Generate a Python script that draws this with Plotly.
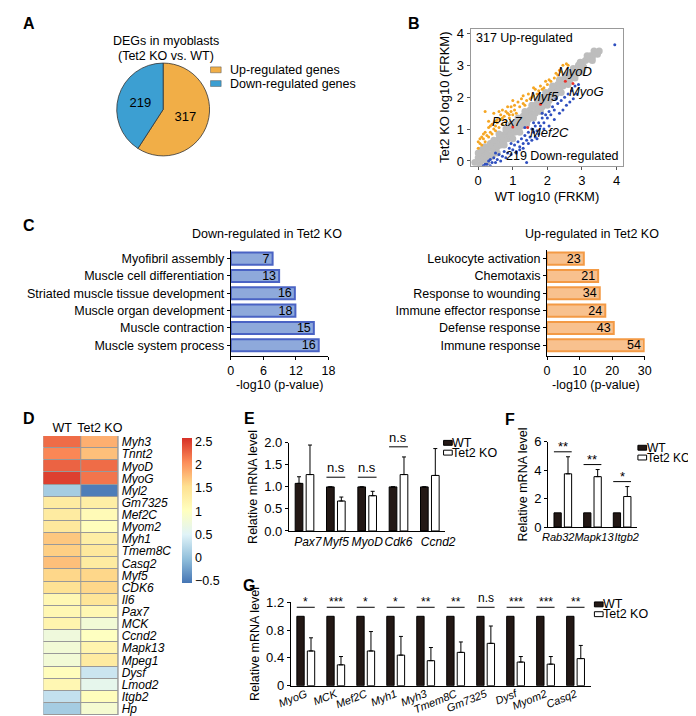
import plotly.graph_objects as go

W, H = 696, 716
FONT = "Arial, Liberation Sans, sans-serif"

# ---- A: pie ----
pie_labels = ["Up-regulated genes", "Down-regulated genes"]
pie_values = [317, 219]
pie_colors = ["#F1AE47", "#3C9FD2"]

# ---- B: scatter (WT vs KO log10 FRKM) ----
gray_x = [-0.1, 0, 0.05, 0.1, 0.15, 0.2, 0.25, 0.3, 0.3, 0.35, 0.4, 0.45, 0.5, 0.5, 0.55, 0.6, 0.65, 0.7, 0.7, 0.75,
          0.8, 0.85, 0.9, 0.9, 0.95, 1.0, 1.05, 1.1, 1.1, 1.15, 1.2, 1.25, 1.3, 1.3, 1.35, 1.4, 1.45, 1.5, 1.5, 1.55,
          1.6, 1.65, 1.7, 1.7, 1.75, 1.8, 1.85, 1.9, 1.9, 1.95, 2.0, 2.05, 2.1, 2.1, 2.15, 2.2, 2.25, 2.3, 2.3, 2.35,
          2.4, 2.45, 2.5, 2.55, 2.6, 2.65, 2.7, 2.75, 2.8, 2.85, 2.9, 2.95, 3.0, 3.05, 3.1, 3.2, 3.25, 3.3, 3.4, 3.5,
          0.0, 0.1, 0.2, 0.35, 0.45, 0.6, 0.8, 0.95, 1.15, 1.35, 1.55, 1.75, 1.95, 2.15, 2.35, 2.55, 2.75, 2.95,
          3.15, 3.35, 0.05, 0.25, 0.4, 0.55, 0.75, 1.0, 1.2, 1.4, 1.6, 1.8, 2.0, 2.2, 2.4, 2.6, 2.8, 3.0, 3.3, 3.45]
gray_y = [-0.05, 0.1, -0.1, 0.2, 0.05, 0.3, 0.1, 0.4, 0.2, 0.15, 0.5, 0.3, 0.6, 0.4, 0.45, 0.7, 0.5, 0.8, 0.6, 0.65,
          0.9, 0.7, 1.0, 0.8, 0.85, 1.1, 0.9, 1.2, 1.0, 1.05, 1.3, 1.1, 1.4, 1.2, 1.25, 1.5, 1.3, 1.6, 1.4, 1.45,
          1.7, 1.5, 1.8, 1.6, 1.65, 1.9, 1.7, 2.0, 1.8, 1.85, 2.1, 1.9, 2.2, 2.0, 2.05, 2.3, 2.1, 2.4, 2.2, 2.25,
          2.5, 2.35, 2.6, 2.45, 2.65, 2.55, 2.8, 2.65, 2.85, 2.75, 3.0, 2.9, 3.05, 2.95, 3.15, 3.2, 3.3, 3.25, 3.4, 3.45,
          0.25, 0.35, 0.45, 0.55, 0.65, 0.85, 1.0, 1.15, 1.35, 1.55, 1.75, 1.95, 2.15, 2.35, 2.55, 2.7, 2.9, 3.1,
          3.3, 3.45, -0.15, -0.05, 0.15, 0.25, 0.5, 0.7, 0.9, 1.15, 1.35, 1.55, 1.75, 2.0, 2.15, 2.4, 2.6, 2.8, 3.15, 3.35]
up_x = [0.0, 0.05, 0.1, 0.15, 0.2, 0.25, 0.3, 0.35, 0.4, 0.45, 0.5, 0.5, 0.55, 0.6, 0.65, 0.7, 0.75, 0.8, 0.85, 0.9,
        0.95, 1.0, 1.05, 1.1, 1.2, 1.3, 1.35, 1.4, 1.5, 1.55, 1.6, 1.7, 1.75, 1.85, 1.9, 2.0, 2.1, 2.2, 2.3, 2.4,
        2.45, 2.55, 2.6, 0.2, 0.45, 0.6, 0.7,
        0.0, 0.1, 0.2, 0.3, 0.4, 0.55, 0.65, 0.8, 0.95, 1.15, 1.25, 1.45, 1.65, 1.8, 1.95, 2.05, 2.25, 2.35,
        0.05, 0.15, 0.35, 0.5, 0.7, 0.9, 1.05, 1.3, 1.6, 0.3, 0.85, 1.0]
up_y = [0.4, 0.55, 0.5, 0.7, 0.6, 0.8, 0.75, 0.9, 0.85, 1.0, 1.1, 0.95, 1.2, 1.05, 1.3, 1.15, 1.4, 1.25, 1.5, 1.35,
        1.55, 1.45, 1.6, 1.5, 1.7, 1.8, 1.75, 1.9, 1.95, 2.0, 2.05, 2.1, 2.2, 2.25, 2.3, 2.4, 2.5, 2.6, 2.7, 2.8,
        3.0, 3.05, 3.0, 1.55, 1.5, 1.55, 1.6,
        0.6, 0.75, 0.9, 1.05, 1.15, 1.3, 1.45, 1.55, 1.7, 1.85, 1.95, 2.1, 2.25, 2.35, 2.5, 2.55, 2.75, 2.85,
        0.7, 0.85, 1.1, 1.25, 1.35, 1.45, 1.75, 2.05, 2.3, 1.25, 1.7, 1.9]
down_x = [0.2, 0.3, 0.4, 0.45, 0.55, 0.6, 0.7, 0.75, 0.85, 0.9, 1.0, 1.05, 1.1, 1.15, 1.2, 1.25, 1.3, 1.35, 1.4, 1.45,
          1.5, 1.55, 1.6, 1.65, 1.7, 1.75, 1.8, 1.85, 1.9, 1.95, 2.0, 2.05, 2.1, 2.15, 2.2, 2.3, 2.4, 2.5, 2.6, 2.7,
          2.8, 2.9, 1.4, 0.35, 3.95,
          0.15, 0.25, 0.35, 0.5, 0.65, 0.8, 0.95, 1.1, 1.2, 1.3, 1.45, 1.55, 1.65, 1.75, 1.9, 2.05, 2.2, 2.35,
          2.45, 2.55, 2.65, 2.75, 2.85, 0.5, 0.95, 1.35, 1.6, 1.85, 2.25, 1.7]
down_y = [-0.1, 0.0, -0.05, 0.1, 0.05, 0.2, 0.15, 0.3, 0.25, 0.4, 0.35, 0.5, 0.3, 0.6, 0.45, 0.7, 0.55, 0.8, 0.65, 0.9,
          0.75, 1.0, 0.9, 1.1, 0.95, 1.2, 1.1, 1.35, 1.2, 1.45, 1.35, 1.55, 1.45, 1.7, 1.6, 1.8, 1.9, 2.0, 2.1, 2.2,
          2.35, 2.4, -0.05, -0.15, 3.65,
          -0.15, -0.1, 0.05, -0.05, 0.0, 0.1, 0.2, 0.25, 0.35, 0.4, 0.55, 0.65, 0.75, 0.85, 1.0, 1.1, 1.3, 1.5,
          1.6, 1.75, 1.85, 1.95, 2.1, 0.25, 0.55, 1.05, 1.2, 1.5, 1.95, 0.7]
mark_genes = ["Pax7", "Mef2C", "Myf5", "MyoD", "MyoG"]
mark_x = [1.0, 1.43, 1.8, 2.52, 2.74]
mark_y = [1.07, 1.05, 1.78, 2.5, 2.43]
mark_lx = [0.84, 2.07, 1.93, 2.8, 3.13]
mark_ly = [1.23, 0.89, 2.03, 2.8, 2.18]

# ---- C: GO terms ----
down_terms = ["Myofibril assembly", "Muscle cell differentiation", "Striated muscle tissue development",
              "Muscle organ development", "Muscle contraction", "Muscle system process"]
down_logp = [7.7, 8.9, 11.8, 11.9, 15.3, 16.2]
down_counts = [7, 13, 16, 18, 15, 16]
up_terms = ["Leukocyte activation", "Chemotaxis", "Response to wounding", "Immune effector response",
            "Defense response", "Immune response"]
up_logp = [11.3, 15.7, 16.2, 17.9, 20.5, 29.8]
up_counts = [23, 21, 34, 24, 43, 54]

# ---- D: heatmap ----
hm_genes = ["Myh3", "Tnnt2", "MyoD", "MyoG", "Myl2", "Gm7325", "Mef2C", "Myom2", "Myh1", "Tmem8C", "Casq2",
            "Myf5", "CDK6", "Il6", "Pax7", "MCK", "Ccnd2", "Mapk13", "Mpeg1", "Dysf", "Lmod2", "Itgb2", "Hp"]
hm_wt = [2.25, 2.1, 2.3, 2.5, 0.1, 1.35, 1.35, 1.4, 1.7, 1.65, 1.75, 1.6, 1.5, 1.15, 1.15, 1.2, 0.75, 0.8, 0.8,
         1.05, 1.15, 0.3, 0.1]
hm_ko = [1.85, 1.75, 2.25, 2.2, -0.5, 1.3, 1.1, 1.05, 1.3, 1.4, 1.35, 1.6, 1.6, 1.45, 1.15, 0.8, 1.0, 1.2, 1.35,
         0.35, 0.6, 1.05, 0.85]

# ---- E ----
e_genes = ["Pax7", "Myf5", "MyoD", "Cdk6", "Ccnd2"]
e_wt = [1.08, 1.0, 1.0, 1.0, 1.0]
e_wt_err = [0.15, 0, 0, 0, 0]
e_ko = [1.28, 0.68, 0.80, 1.28, 1.26]
e_ko_err = [0.67, 0.09, 0.10, 0.40, 0.61]
e_sig = ["n.s", "n.s", "n.s", "n.s", "n.s"]
e_sig_y = [2.07, 1.22, 1.22, 1.91, 2.09]

# ---- F ----
f_genes = ["Rab32", "Mapk13", "Itgb2"]
f_wt = [1.0, 1.0, 1.0]
f_ko = [3.75, 3.55, 2.15]
f_ko_err = [1.2, 0.5, 0.7]
f_sig = ["**", "**", "*"]
f_sig_y = [5.3, 4.4, 3.2]

# ---- G ----
g_genes = ["MyoG", "MCK", "Mef2C", "Myh1", "Myh3", "Tmem8C", "Gm7325", "Dysf", "Myom2", "Casq2"]
g_wt = [1.0] * 10
g_ko = [0.50, 0.30, 0.50, 0.44, 0.36, 0.48, 0.61, 0.34, 0.31, 0.39]
g_ko_err = [0.19, 0.12, 0.28, 0.27, 0.19, 0.15, 0.25, 0.08, 0.11, 0.19]
g_sig = ["*", "***", "*", "*", "**", "**", "n.s", "***", "***", "**"]
g_sig_y = [1.13] * 10


def px(x):
    return x / W


def py(y):
    return 1 - y / H


NB = "\u00a0"

fig = go.Figure()

fig.add_trace(go.Pie(labels=pie_labels, values=pie_values, sort=False, direction="clockwise",
                     marker=dict(colors=pie_colors, line=dict(color="#333333", width=0.8)),
                     textinfo="value", textposition="inside", insidetextorientation="horizontal",
                     textfont=dict(size=13, color="black"),
                     domain=dict(x=[px(99), px(195)], y=[py(145), py(48)]), showlegend=False))

# B
fig.add_trace(go.Scatter(x=gray_x, y=gray_y, mode="markers", marker=dict(color="#BDBDBD", size=7),
                         xaxis="x", yaxis="y", showlegend=False))
fig.add_trace(go.Scatter(x=up_x, y=up_y, mode="markers", marker=dict(color="#F5A623", size=3),
                         xaxis="x", yaxis="y", showlegend=False))
fig.add_trace(go.Scatter(x=down_x, y=down_y, mode="markers", marker=dict(color="#2F4FBF", size=3),
                         xaxis="x", yaxis="y", showlegend=False))
fig.add_trace(go.Scatter(x=mark_x, y=mark_y, mode="markers", marker=dict(color="#E8312A", size=3),
                         xaxis="x", yaxis="y", showlegend=False))

# C
fig.add_trace(go.Bar(x=down_logp, y=down_terms, orientation="h", width=0.7, text=down_counts,
                     textposition="inside", insidetextanchor="end", textangle=0, constraintext="none",
                     textfont=dict(size=12.5, color="black"),
                     marker=dict(color="#8EA9DB", line=dict(color="#4A63C4", width=2)),
                     xaxis="x2", yaxis="y2", showlegend=False))
fig.add_trace(go.Bar(x=up_logp, y=up_terms, orientation="h", width=0.7, text=up_counts,
                     textposition="inside", insidetextanchor="end", textangle=0, constraintext="none",
                     textfont=dict(size=12.5, color="black"),
                     marker=dict(color="#F8C18E", line=dict(color="#F39A45", width=2)),
                     xaxis="x3", yaxis="y3", showlegend=False))

# D
rdylbu = [[0.0, "#4575B4"], [1 / 6, "#91BFDB"], [2 / 6, "#E0F3F8"], [3 / 6, "#FFFFBF"],
          [4 / 6, "#FEE090"], [5 / 6, "#FC8D59"], [1.0, "#D73027"]]
fig.add_trace(go.Heatmap(z=[[a, b] for a, b in zip(hm_wt, hm_ko)], x=["WT", "Tet2 KO"], y=hm_genes,
                         colorscale=rdylbu, zmin=-0.56, zmax=2.59, xgap=1, ygap=1,
                         xaxis="x4", yaxis="y4",
                         colorbar=dict(x=px(167), xanchor="left", y=py(432), yanchor="top",
                                       len=148 / H, lenmode="fraction", thickness=10, outlinewidth=0,
                                       xpad=0, ypad=0, tickvals=[2.5, 2, 1.5, 1, 0.5, 0, -0.5],
                                       tickfont=dict(size=12.5), ticks="")))


def bar_pair(xs, wt, ko, ko_err, xa, ya, wt_err=None):
    fig.add_trace(go.Bar(x=xs, y=wt, marker=dict(color="#231815", line=dict(color="black", width=1)),
                         error_y=dict(type="data", array=wt_err or [0] * len(xs), arrayminus=[0] * len(xs),
                                      symmetric=False, color="black", thickness=1, width=2,
                                      visible=wt_err is not None),
                         xaxis=xa, yaxis=ya, showlegend=False, cliponaxis=False))
    fig.add_trace(go.Bar(x=xs, y=ko, marker=dict(color="white", line=dict(color="black", width=1)),
                         error_y=dict(type="data", array=ko_err, arrayminus=[0] * len(xs), symmetric=False,
                                      color="black", thickness=1, width=2),
                         xaxis=xa, yaxis=ya, showlegend=False, cliponaxis=False))


bar_pair(e_genes, e_wt, e_ko, e_ko_err, "x5", "y5", e_wt_err)
bar_pair(f_genes, f_wt, f_ko, f_ko_err, "x6", "y6")
bar_pair(g_genes, g_wt, g_ko, g_ko_err, "x7", "y7")

shapes = []
annotations = []


def note(x, y, text, size=12.5, xanchor="center", **kw):
    # paper annotation with explicit anchors (auto anchors shift near the edges)
    annotations.append(dict(xref="paper", yref="paper", x=px(x), y=py(y), text=text, showarrow=False,
                            xanchor=xanchor, yanchor="middle", font=dict(size=size), **kw))


def sig_marks(sigs, levels, xa, ya, size):
    for i, (s, lv) in enumerate(zip(sigs, levels)):
        shapes.append(dict(type="line", xref=xa, yref=ya, x0=i - 0.3, x1=i + 0.3, y0=lv, y1=lv,
                           line=dict(color="black", width=1)))
        annotations.append(dict(xref=xa, yref=ya, x=i, y=lv, text=s, showarrow=False, xanchor="center",
                                yanchor="bottom", yshift=0 if s == "n.s" else -4, font=dict(size=size)))


sig_marks(e_sig, e_sig_y, "x5", "y5", 13)
sig_marks(f_sig, f_sig_y, "x6", "y6", 13)
sig_marks(g_sig, g_sig_y, "x7", "y7", 12)

# panel letters
for lab, x, y in [("A", 8, 9), ("B", 406, 9), ("C", 8, 215), ("D", 8, 412), ("E", 236, 412),
                  ("F", 506, 413), ("G", 236, 583)]:
    note(x, y, "<b>%s</b>" % lab, size=16)

# A title + legend
note(150, 27, "DEGs in myoblasts")
note(150, 42, "(Tet2 KO vs. WT)")
for i, (lab, c) in enumerate(zip(pie_labels, pie_colors)):
    yc = 56 + 14 * i
    shapes.append(dict(type="rect", xref="paper", yref="paper", x0=px(196), x1=px(207), y0=py(yc + 3),
                       y1=py(yc - 3), fillcolor=c, line=dict(color="#555555", width=0.5)))
    note(214, yc, lab, xanchor="left")

# B labels
annotations.append(dict(xref="x", yref="y", x=-0.12, y=3.87, text="317 Up-regulated", showarrow=False,
                        xanchor="left", font=dict(size=12.5)))
annotations.append(dict(xref="x", yref="y", x=4.12, y=0.16, text="219 Down-regulated", showarrow=False,
                        xanchor="right", font=dict(size=12.5)))
for g, lx, ly in zip(mark_genes, mark_lx, mark_ly):
    annotations.append(dict(xref="x", yref="y", x=lx, y=ly, text="<i>%s</i>" % g, showarrow=False,
                            xanchor="center", font=dict(size=13)))

# C titles
note(254, 224, "Down-regulated in Tet2 KO")
note(590, 224, "Up-regulated in Tet2 KO")

# legends E, F, G
for x0, ytop, fs in [(437, 437, 12.5), (638, 442, 12), (593, 602, 12.5)]:
    for i, (lab, fill) in enumerate([("WT", "#231815"), ("Tet2 KO", "white")]):
        yc = ytop + 10 * i
        shapes.append(dict(type="rect", xref="paper", yref="paper", x0=px(x0), x1=px(x0 + 9),
                           y0=py(yc + 2.5), y1=py(yc - 2.5), fillcolor=fill,
                           line=dict(color="black", width=1)))
        note(x0 + 8, yc, lab, size=fs, xanchor="left", borderpad=0)

# gray background behind heatmap cells (cell borders)
shapes.append(dict(type="rect", xref="paper", yref="paper", x0=px(23), x1=px(101), y0=py(715), y1=py(430),
                   fillcolor="#999999", line=dict(width=0), layer="below"))

axis_common = dict(showgrid=False, zeroline=False, linecolor="black", showline=True, ticks="outside",
                   ticklen=3, tickcolor="black")

# non-breaking space padding nudges the crowded category labels apart, as in the original
e_ticktext = [NB * 2 + "Pax7", "Myf5", "MyoD", "Cdk6", NB * 5 + "Ccnd2"]
f_ticktext = ["Rab32" + NB * 3, NB + "Mapk13", NB * 3 + "Itgb2"]

fig.update_layout(
    width=W, height=H, margin=dict(l=0, r=0, t=0, b=0), paper_bgcolor="white", plot_bgcolor="rgba(0,0,0,0)",
    font=dict(family=FONT, color="black", size=12),
    barmode="group", bargap=0.3, bargroupgap=0.3,
    xaxis=dict(domain=[px(465), px(623)], range=[-0.22, 4.2], showgrid=False, zeroline=False,
               showline=True, mirror=True, linecolor="#999999", ticks="outside", ticklen=3,
               tickcolor="#555555", tickvals=[0, 1, 2, 3, 4], tickfont=dict(size=13),
               title=dict(text="WT log10 (FRKM)", font=dict(size=13), standoff=4), anchor="y"),
    yaxis=dict(domain=[py(154), py(14)], range=[-0.15, 4.15], showgrid=False, zeroline=False,
               showline=True, mirror=True, linecolor="#999999", ticks="outside", ticklen=3,
               tickcolor="#555555", tickvals=[0, 1, 2, 3, 4], tickfont=dict(size=13),
               title=dict(text="Tet2 KO log10 (FRKM)", font=dict(size=13), standoff=4), anchor="x"),
    xaxis2=dict(axis_common, domain=[px(217), px(318)], range=[0, 18], tickvals=[0, 6, 12, 18],
                tickfont=dict(size=12.5), anchor="y2",
                title=dict(text="-log10 (p-value)", font=dict(size=12.5), standoff=2)),
    yaxis2=dict(axis_common, domain=[py(348), py(240)], range=[5.6, -0.5], anchor="x2",
                tickfont=dict(size=12.5)),
    xaxis3=dict(axis_common, domain=[px(544), px(645)], range=[0, 30], tickvals=[0, 10, 20, 30],
                tickfont=dict(size=12.5), anchor="y3",
                title=dict(text="-log10 (p-value)", font=dict(size=12.5), standoff=2)),
    yaxis3=dict(axis_common, domain=[py(348), py(240)], range=[5.6, -0.5], anchor="x3",
                tickfont=dict(size=12.5)),
    xaxis4=dict(domain=[px(23), px(101)], side="top", anchor="y4", showgrid=False, zeroline=False,
                tickfont=dict(size=12.5), ticks="", ticklabelstandoff=0),
    yaxis4=dict(domain=[py(715), py(430)], side="right", anchor="x4", autorange="reversed", showgrid=False,
                zeroline=False, ticks="", tickmode="array", tickvals=hm_genes, ticktext=hm_genes,
                tickfont=dict(size=12, style="italic"), ticklabelstandoff=2),
    xaxis5=dict(axis_common, domain=[px(277), px(439)], anchor="y5", ticks="", tickangle=0,
                tickmode="array", tickvals=e_genes, ticktext=e_ticktext,
                tickfont=dict(size=12, style="italic")),
    yaxis5=dict(axis_common, domain=[py(527), py(437)], range=[0, 2.0], anchor="x5",
                tickvals=[0, 0.5, 1.0, 1.5, 2.0], tickformat=".1f", tickfont=dict(size=13),
                title=dict(text="Relative mRNA level", font=dict(size=12.5), standoff=3)),
    xaxis6=dict(axis_common, domain=[px(545), px(637)], anchor="y6", ticks="", tickangle=0,
                tickmode="array", tickvals=f_genes, ticktext=f_ticktext,
                tickfont=dict(size=11, style="italic")),
    yaxis6=dict(axis_common, domain=[py(523), py(436)], range=[0, 6], anchor="x6",
                tickvals=[0, 2, 4, 6], tickfont=dict(size=13),
                title=dict(text="Relative mRNA level", font=dict(size=12.5), standoff=3)),
    xaxis7=dict(axis_common, domain=[px(279), px(589)], anchor="y7", ticks="", tickangle=-22,
                tickfont=dict(size=11, style="italic"), ticklabelstandoff=-3),
    yaxis7=dict(axis_common, domain=[py(685), py(600)], range=[0, 1.2], anchor="x7",
                tickvals=[0, 0.4, 0.8, 1.2], tickfont=dict(size=13),
                title=dict(text="Relative mRNA level", font=dict(size=12.5), standoff=3)),
    shapes=shapes, annotations=annotations,
)

fig.write_html("out.html")
